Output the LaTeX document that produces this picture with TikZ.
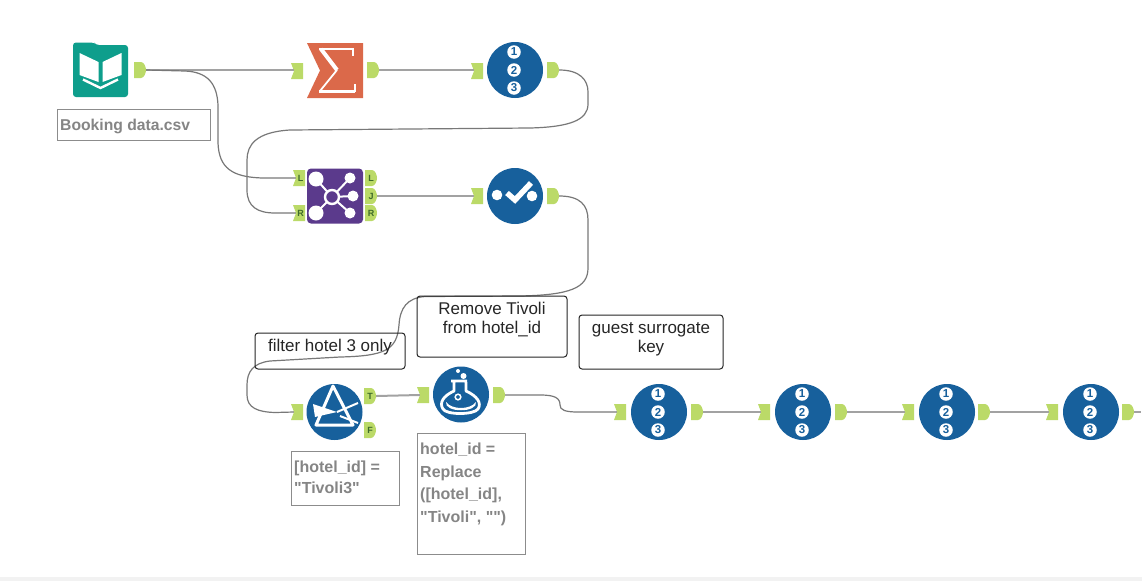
\documentclass[tikz,border=0pt]{standalone}
\usepackage{fontspec}
\setmainfont{Liberation Sans}[Ligatures=TeXOff]
\definecolor{portgreen}{HTML}{BBDA68}
\definecolor{toolblue}{HTML}{17609C}
\definecolor{toolteal}{HTML}{0E9E8C}
\definecolor{toolorange}{HTML}{DB694A}
\definecolor{toolpurple}{HTML}{5B3A8C}
\definecolor{wire}{HTML}{A2A2A2}
\definecolor{wiredark}{HTML}{787878}
\definecolor{annot}{HTML}{858585}
\definecolor{portlabel}{HTML}{3E6B2A}
\tikzset{
  wirestraight/.style={draw=wire,line width=2pt},
  wirecurve/.style={draw=wiredark,line width=1.2pt},
  inport/.style={inner sep=0pt,minimum width=9pt,minimum height=16pt,font=\bfseries\fontsize{9}{9}\selectfont,text=portlabel},
  outport/.style={inner sep=0pt,minimum width=12pt,minimum height=16pt,font=\bfseries\fontsize{9}{9}\selectfont,text=portlabel},
  notebox/.style={draw=black!85,rounded corners=3pt,line width=1pt},
  annotbox/.style={draw=black!45,line width=1pt},
  notetext/.style={inner sep=0pt,align=center,font=\fontsize{17}{19}\selectfont,text=black!85},
  annottext/.style={inner sep=0pt,align=left,anchor=north west,text=annot,font=\bfseries\fontsize{16}{22.5}\selectfont},
  ringdigit/.style={circle,fill=white,inner sep=0pt,minimum size=13.5pt,text=toolblue,font=\bfseries\fontsize{11.5}{11.5}\selectfont},
  toolcircle/.style={circle,fill=toolblue,inner sep=0pt,minimum size=56pt},
}
% input port: name, x, y, label
\newcommand\inp[4]{%
  \fill[portgreen] (#2-6,#3-8)--(#2+6,#3-8)--(#2+6,#3+8)--(#2-6,#3+8)--(#2-3,#3)--cycle;
  \node[inport] (#1) at (#2+1.5,#3) {#4};}
% output port: name, x, y, label
\newcommand\outp[4]{%
  \fill[portgreen] (#2-6,#3-8)--(#2+1,#3-8) .. controls (#2+4,#3-8) and (#2+6,#3-3) .. (#2+6,#3) .. controls (#2+6,#3+3) and (#2+4,#3+8) .. (#2+1,#3+8)--(#2-6,#3+8)--cycle;
  \node[outport] (#1) at (#2,#3) {#4};}
% recordID tool: name, x, y
\newcommand\rectool[3]{%
  \node[toolcircle] (#1) at (#2,#3) {};
  \node[ringdigit] (#1a) at (#2-1,#3-18) {1};
  \node[ringdigit] (#1b) at (#2-1,#3) {2};
  \node[ringdigit] (#1c) at (#2-1,#3+18) {3};}
\begin{document}
\begin{tikzpicture}[x=1pt,y=-1pt]
\useasboundingbox (0,0) rectangle (1142,581);
\fill[white] (0,0) rectangle (1142,581);
\fill[black!5] (0,577) rectangle (1142,581);

% ---- tools ----
\node[inner sep=0pt,minimum width=55pt,minimum height=54pt] (book) at (100.5,70) {};
\fill[toolteal,rounded corners=3pt] (73,42.5)--(94,42.5)--(96,45)--(128,45)--(128,97)--(73,97)--cycle;
\fill[white] (79.5,53)--(98.5,62)--(98.5,82)--(79.5,75)--cycle;
\fill[white] (121.5,53)--(102.5,62)--(102.5,82)--(121.5,75)--cycle;
\draw[white,line width=2.4pt] (83,79.5)--(100.5,88)--(118,79.5);

\node[inner sep=0pt,minimum width=56pt,minimum height=55pt] (sum) at (335,70.5) {};
\fill[toolorange] (307,43)--(363,43)--(363,98)--(307,98)--(320,70.5)--cycle;
\draw[white,line width=1.6pt] (319,49)--(353,49)--(353,56);
\draw[white,line width=4pt] (321,49)--(337,70);
\draw[white,line width=1.8pt] (337,70)--(320,91);
\draw[white,line width=3.4pt] (319,91.5)--(355,91.5);
\draw[white,line width=1.6pt] (355,92)--(355,84);

\rectool{rec0}{515}{70}

\node[fill=toolpurple,rounded corners=4pt,inner sep=0pt,minimum width=56pt,minimum height=55pt] (join) at (335,196) {};
\draw[white,line width=2pt] (316,179)--(332,197)--(316,213) (350,178)--(332,197)--(350,213) (332,197)--(353,196);
\fill[white] (316,179) circle[radius=7.5] (316,213) circle[radius=7.5] (350,178) circle[radius=5.5] (353,196) circle[radius=5.5] (350,213) circle[radius=5.5];
\fill[toolpurple] (332,197) circle[radius=7];
\draw[white,line width=2.4pt] (332,197) circle[radius=7];

\node[toolcircle] (check) at (515,196) {};
\fill[white] (497,195) circle[radius=5.3] (532,196) circle[radius=5.3];
\draw[white,line width=5.5pt] (507,193)--(515,200)--(531,183);

\node[toolcircle] (filter) at (334.5,412) {};
\draw[white,line width=3pt,line join=round] (333,386)--(316,425)--(353,425)--cycle;
\fill[white] (313,404)--(337,412)--(315,417)--cycle;
\draw[white,line width=2pt] (337,412)--(358,403) (340,416)--(358,423);

\node[toolcircle] (formula) at (461,394.5) {};
\fill[white] (458,371) circle[radius=2] (463.5,376) circle[radius=3];
\draw[white,line width=2.8pt,line join=round] (451,381)--(467,381) (454,382)--(454,391) .. controls (443,396) and (439,403) .. (443,409) .. controls (446,415) and (474,415) .. (478,409) .. controls (482,403) and (477,396) .. (466,391)--(466,382);
\fill[white] (446,402) .. controls (452,410) and (470,410) .. (476,402) .. controls (478,413) and (444,413) .. (446,402)--cycle;
\draw[white,line width=1.5pt] (458,397) circle[radius=2.8];

\rectool{rec1}{659}{412}
\rectool{rec2}{803}{412}
\rectool{rec3}{947}{412}
\rectool{rec4}{1091}{412}

\node[inner sep=0pt] (rightedge) at (1142,412) {};

% ---- ports ----
\outp{bookout}{140}{70}{}
\inp{sumin}{297}{71}{}
\outp{sumout}{373}{70}{}
\inp{rec0in}{477}{71}{}
\outp{rec0out}{553}{70}{}
\inp{joinl}{299}{178}{L}
\inp{joinr}{299}{213}{R}
\outp{joinol}{371}{178}{L}
\outp{joinoj}{371}{196}{J}
\outp{joinor}{371}{213}{R}
\inp{checkin}{477}{196}{}
\outp{checkout}{553}{196}{}
\inp{filterin}{297}{412}{}
\outp{filtert}{370}{396}{T}
\outp{filterf}{370}{430}{F}
\inp{formin}{423}{395}{}
\outp{formout}{499}{395}{}
\inp{rec1in}{620}{412}{}
\outp{rec1out}{697}{412}{}
\inp{rec2in}{764}{412}{}
\outp{rec2out}{841}{412}{}
\inp{rec3in}{908}{412}{}
\outp{rec3out}{984}{412}{}
\inp{rec4in}{1052}{412}{}
\outp{rec4out}{1128}{412}{}

% ---- connectors ----
\draw[wirestraight] (bookout.east) -- (sumin.west |- bookout.east);
\draw[wirestraight] (sumout.east) -- (rec0in.west |- sumout.east);
\draw[wirestraight] (joinoj.east) -- (checkin.west);
\draw[wirestraight] (filtert.east) -- (formin.west);
\draw[wirestraight] (rec1out.east) -- (rec2in.west);
\draw[wirestraight] (rec2out.east) -- (rec3in.west);
\draw[wirestraight] (rec3out.east) -- (rec4in.west);
\draw[wirestraight] (rec4out.east) -- (rightedge);
\draw[wirecurve] (bookout.east) -- (185,71) .. controls (208,72) and (217,84) .. (218,105) -- (218,143) .. controls (219,168) and (232,177) .. (262,178) -- (joinl.west);
\draw[wirecurve] (rec0out.east) .. controls (580,70) and (588,80) .. (588,92) -- (588,104) .. controls (588,120) and (570,127) .. (530,128) -- (290,130) .. controls (256,132) and (247,145) .. (247,160) -- (247,190) .. controls (247,207) and (258,213) .. (275,213) -- (joinr.west);
\draw[wirecurve] (checkout.east) .. controls (580,196) and (588,205) .. (588,220) -- (588,268) .. controls (588,288) and (570,295) .. (520,296) -- (425,296.5) .. controls (407,298) and (400,308) .. (399,325) .. controls (397,350) and (385,356) .. (340,357) -- (270,361) .. controls (253,363) and (247,372) .. (247,385) -- (247,395) .. controls (247,408) and (258,412) .. (275,412.5) -- (filterin.west);
\draw[wirecurve] (formout.east) -- (540,395) .. controls (555,395) and (560,398) .. (560,405) .. controls (560,410) and (565,412) .. (578,412) -- (rec1in.west);

% ---- annotation boxes ----
\node[annotbox,inner sep=0pt,minimum width=153pt,minimum height=31pt] (bookbox) at (133.5,124.5) {};
\node[annottext,anchor=west,font=\bfseries\fontsize{15.7}{17}\selectfont] (booktext) at (60,126) {Booking data.csv};
\node[annotbox,inner sep=0pt,minimum width=108pt,minimum height=54pt] (filterbox) at (345,478) {};
\node[annottext,font=\bfseries\fontsize{16}{21}\selectfont] (filtertext) at (294,461) {[hotel\_id] =\\"Tivoli3"};
\node[annotbox,inner sep=0pt,minimum width=108pt,minimum height=121pt] (formbox) at (471,493.5) {};
\node[annottext] (formtext) at (420,443) {hotel\_id =\\Replace\\({[}hotel\_id{]},\\"Tivoli", "")};

% ---- note boxes ----
\node[notebox,inner sep=0pt,minimum width=150pt,minimum height=36pt] (filternote) at (330,351) {};
\node[notetext] (filternotetext) at (330,347) {filter hotel 3 only};
\node[notebox,inner sep=0pt,minimum width=150pt,minimum height=61pt] (removenote) at (492,326.5) {};
\node[notetext] (removenotetext) at (492,320) {Remove Tivoli\\from hotel\_id};
\node[notebox,inner sep=0pt,minimum width=144pt,minimum height=54pt] (guestnote) at (651,342) {};
\node[notetext] (guestnotetext) at (651,339) {guest surrogate\\key};
\end{tikzpicture}
\end{document}
